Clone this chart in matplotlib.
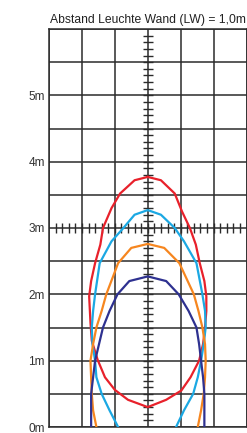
import numpy as np
import matplotlib
matplotlib.use("Agg")
import matplotlib.pyplot as plt

plt.rcParams['font.family'] = ['Liberation Sans', 'DejaVu Sans']

title = "Abstand Leuchte Wand (LW) = 1,0m"
y_labels = ["0m", "1m", "2m", "3m", "4m", "5m"]
y_label_pos = [0, 1, 2, 3, 4, 5]

red_x = [0, 0.2, 0.41, 0.52, 0.64, 0.73, 0.79, 0.86, 0.89, 0.89, 0.87, 0.84, 0.78, 0.65, 0.51, 0.28, 0,
         -0.30, -0.50, -0.65, -0.76, -0.85, -0.87, -0.89, -0.86, -0.80, -0.72, -0.68, -0.55, -0.42, -0.2, 0]
red_y = [3.77, 3.72, 3.52, 3.25, 3.0, 2.75, 2.47, 2.2, 1.97, 1.75, 1.5, 1.25, 1.0, 0.75, 0.55, 0.41, 0.30,
         0.41, 0.56, 0.75, 1.01, 1.3, 1.57, 1.97, 2.2, 2.47, 2.75, 3.0, 3.3, 3.52, 3.72, 3.77]

blue_x = [-0.45, -0.58, -0.70, -0.78, -0.80, -0.84, -0.85, -0.83, -0.80, -0.73, -0.55, -0.37, -0.2, 0,
          0.2, 0.41, 0.55, 0.74, 0.83, 0.87, 0.88, 0.85, 0.81, 0.76, 0.69, 0.55, 0.43]
blue_y = [0, 0.25, 0.5, 0.75, 1.0, 1.25, 1.5, 1.75, 2.0, 2.47, 2.8, 3.0, 3.2, 3.27,
          3.2, 3.0, 2.8, 2.47, 2.0, 1.75, 1.5, 1.25, 1.0, 0.75, 0.5, 0.25, 0]

orange_x = [-0.78, -0.83, -0.85, -0.86, -0.87, -0.83, -0.78, -0.70, -0.63, -0.45, -0.25, 0,
            0.25, 0.48, 0.70, 0.77, 0.83, 0.87, 0.88, 0.87, 0.85, 0.81, 0.76]
orange_y = [0, 0.25, 0.5, 0.75, 1.0, 1.25, 1.5, 1.75, 2.0, 2.47, 2.7, 2.76,
            2.7, 2.47, 2.0, 1.75, 1.5, 1.25, 1.0, 0.75, 0.5, 0.25, 0]

navy_x = [-0.86, -0.86, -0.83, -0.80, -0.74, -0.68, -0.58, -0.46, -0.28, 0,
          0.28, 0.47, 0.62, 0.74, 0.78, 0.81, 0.84, 0.86, 0.86]
navy_y = [0, 0.5, 0.75, 1.0, 1.25, 1.5, 1.75, 2.0, 2.2, 2.27,
          2.2, 2.0, 1.75, 1.5, 1.25, 1.0, 0.75, 0.5, 0]

fig = plt.figure(figsize=(2.47, 4.33), dpi=100)
ax = fig.add_axes([49/247, 6/433, 197.5/247, 398/433])
ax.set_xlim(-1.5, 1.5)
ax.set_ylim(0, 6)

gc = '#2b2b2b'
for gx in np.arange(-1.5, 1.51, 0.5):
    ax.axvline(gx, color=gc, lw=1.1, zorder=1)
for gy in np.arange(0, 6.01, 0.5):
    ax.axhline(gy, color=gc, lw=1.1, zorder=1)

# scale ticks on central axes
for ty in np.arange(0.1, 6.0, 0.1):
    ax.plot([-0.075, 0.075], [ty, ty], color=gc, lw=1.0, zorder=1, solid_capstyle='butt')
for tx in np.arange(-1.4, 1.5, 0.1):
    ax.plot([tx, tx], [3 - 0.08, 3 + 0.08], color=gc, lw=1.0, zorder=1, solid_capstyle='butt')

ax.plot(red_x, red_y, color='#e8212b', lw=1.6, zorder=3)
ax.plot(blue_x, blue_y, color='#1ba8e3', lw=1.6, zorder=3)
ax.plot(orange_x, orange_y, color='#f6861f', lw=1.6, zorder=3)
ax.plot(navy_x, navy_y, color='#2e3190', lw=1.6, zorder=4)

for s in ax.spines.values():
    s.set_color(gc)
    s.set_linewidth(1.1)

ax.set_xticks([])
ax.set_yticks(y_label_pos)
ax.set_yticklabels(y_labels, fontsize=8.5, color='#333333')
ax.tick_params(axis='y', length=0, pad=3)

ax.set_title(title, fontsize=8.7, color='#222222', pad=4)

fig.savefig("out.png", dpi=100)
